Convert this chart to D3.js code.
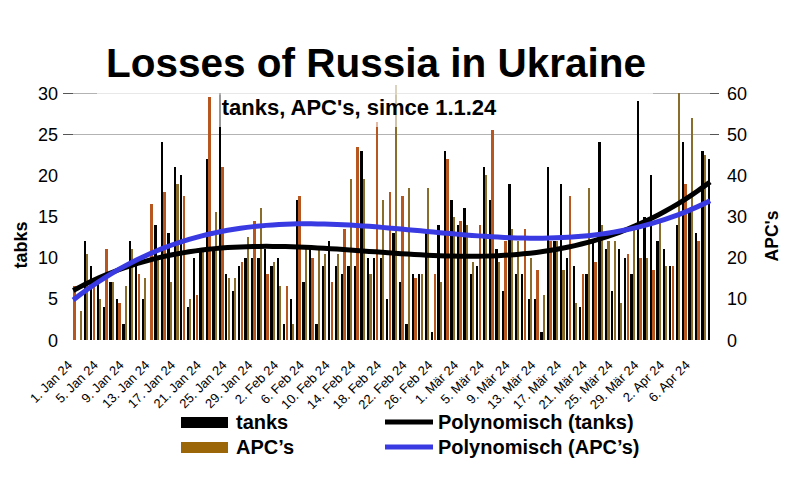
<!DOCTYPE html>
<html><head><meta charset="utf-8">
<script src="https://cdn.jsdelivr.net/npm/d3@7"></script>
<style>
body{margin:0;background:#fff}
svg{display:block}
text{font-family:"Liberation Sans",Arial,Helvetica,sans-serif}
</style>
</head><body>
<svg id="chart" width="795" height="477"></svg>
<script>
// ---- data ----
const dayCount = 100;
const days = d3.range(1, dayCount + 1);

const tanks = [null,0,12,9,7,4,7,5,2,12, 9,5,0,14,24,13,21,20,4,10,
  11,22,11,30,8,6,9,10,10,10, 11,9,10,2,5,17,7,11,2,9,
  12,9,8,9,9,23,10,10,10,5, 13,7,2,8,8,13,1,14,23,17,
  14,16,8,9,21,17,11,6,19,8, 8,5,5,1,21,12,19,10,9,4,
  8,12,24,11,6,11,10,8,29,15, 20,12,11,9,14,24,16,13,23,22];

const apcs = [13,7,21,13,10,22,14,9,13,22, 16,15,33,20,36,14,38,35,10,11,
  22,59,31,42,15,15,19,25,29,32, 16,19,13,13,4,35,22,20,22,21,
  14,21,27,39,47,39,16,53,34,36, 62,35,37,15,16,37,16,14,44,30,
  29,28,19,28,40,51,19,24,27,24, 27,20,17,11,24,24,17,35,9,16,
  37,19,28,24,24,9,21,27,20,20, 17,29,18,18,60,38,54,24,45,null];

const tickLabels = ["1. Jan 24","5. Jan 24","9. Jan 24","13. Jan 24","17. Jan 24","21. Jan 24",
  "25. Jan 24","29. Jan 24","2. Feb 24","6. Feb 24","10. Feb 24","14. Feb 24","18. Feb 24",
  "22. Feb 24","26. Feb 24","1. Mär 24","5. Mär 24","9. Mär 24","13. Mär 24","17. Mär 24",
  "21. Mär 24","25. Mär 24","29. Mär 24","2. Apr 24","6. Apr 24"];
const tickDays = [1,5,9,13,17,21,25,29,33,37,41,45,49,53,57,61,65,69,73,77,81,85,89,93,97];

const leftTicks = [0,5,10,15,20,25,30];
const rightTicks = [0,10,20,30,40,50,60];
const gridTicks = [25,30];

const title = "Losses of Russia in Ukraine";
const subtitle = "tanks, APC's, simce 1.1.24";
const leftTitle = "tabks";
const rightTitle = "APC's";
const legendItems = ["tanks","APC\u2019s","Polynomisch (tanks)","Polynomisch (APC\u2019s)"];

// ---- helpers ----
function polyfit(xv, yv, deg){
  const n = deg + 1;
  const A = Array.from({length:n}, () => new Array(n+1).fill(0));
  for (let i = 0; i < xv.length; i++){
    const p = []; let t = 1;
    for (let j = 0; j < n; j++){ p.push(t); t *= xv[i]; }
    for (let r = 0; r < n; r++){
      for (let c = 0; c < n; c++) A[r][c] += p[r]*p[c];
      A[r][n] += p[r]*yv[i];
    }
  }
  for (let col = 0; col < n; col++){
    let piv = col;
    for (let r = col+1; r < n; r++) if (Math.abs(A[r][col]) > Math.abs(A[piv][col])) piv = r;
    const tmp = A[col]; A[col] = A[piv]; A[piv] = tmp;
    for (let r = 0; r < n; r++){
      if (r === col) continue;
      const f = A[r][col]/A[col][col];
      for (let c = col; c <= n; c++) A[r][c] -= f*A[col][c];
    }
  }
  return A.map((row,i) => row[n]/row[i]);
}
const scaleU = k => (k - 50.5)/49.5;
function trend(values, deg){
  const xv = [], yv = [];
  values.forEach((v,i) => { if (v != null){ xv.push(scaleU(days[i])); yv.push(v); } });
  const c = polyfit(xv, yv, deg);
  return days.map(k => { const u = scaleU(k); let s = 0, t = 1; c.forEach(ci => { s += ci*t; t *= u; }); return s; });
}

// ---- scales ----
const svg = d3.select("#chart");
const x = d3.scaleBand().domain(days).range([70, 713.3]).paddingInner(0).paddingOuter(0);
const xs = d3.scaleBand().domain(["t","a"]).range([0.8, 5.6]).paddingInner(0.08);
const yL = d3.scaleLinear().domain([0,30]).range([340,93]);
const yR = d3.scaleLinear().domain([0,60]).range([340,93]);

const colBlack = "#000000", colOrange = "#b8561f", colOlive = "#8a6c2b", colLegendApc = "#9a6608", colBlue = "#3a3ae2";

// gridlines (only the upper ones are visible in the reference)
const gy = d => Math.round(yL(d)) + 0.5;
svg.append("g").selectAll("line").data(gridTicks).join("line")
  .attr("x1", 73).attr("x2", 710).attr("y1", gy).attr("y2", gy)
  .attr("stroke", "#b3b3b3").attr("stroke-width", 1);
svg.append("g").selectAll("line").data(gridTicks).join("line")
  .attr("x1", 63).attr("x2", 73).attr("y1", gy).attr("y2", gy)
  .attr("stroke", "#555").attr("stroke-width", 1);
svg.append("g").selectAll("line").data(gridTicks).join("line")
  .attr("x1", 710).attr("x2", 719).attr("y1", gy).attr("y2", gy)
  .attr("stroke", "#555").attr("stroke-width", 1);

// bars
const gb = svg.append("g").attr("shape-rendering", "crispEdges");
gb.selectAll("rect.t").data(days.filter((d,i) => tanks[i] != null)).join("rect").attr("class","t")
  .attr("x", d => x(d) + xs("t")).attr("width", xs.bandwidth())
  .attr("y", d => yL(tanks[d-1])).attr("height", d => yL(0) - yL(tanks[d-1]))
  .attr("fill", colBlack);
gb.selectAll("rect.a").data(days.filter((d,i) => apcs[i] != null)).join("rect").attr("class","a")
  .attr("x", d => x(d) + xs("a")).attr("width", xs.bandwidth())
  .attr("y", d => yR(apcs[d-1])).attr("height", d => yR(0) - yR(apcs[d-1]))
  .attr("fill", d => { const px = x(d) + xs("a"); const f = px - Math.floor(px); return (f >= 0.24 && f < 0.67) ? colOrange : colOlive; });

// trend lines
const tT = trend(tanks, 3), tA = trend(apcs, 3);
const cx = d => x(d) + x.bandwidth()/2;
svg.append("path").datum(days).attr("fill","none").attr("stroke", colBlack).attr("stroke-width", 5)
  .attr("d", d3.line().x(d => cx(d)).y(d => yL(tT[d-1])));
svg.append("path").datum(days).attr("fill","none").attr("stroke", colBlue).attr("stroke-width", 5)
  .attr("d", d3.line().x(d => cx(d)).y(d => yR(tA[d-1])));

// title boxes (semi-transparent, as in reference)
svg.append("rect").attr("x", 97).attr("y", 35).attr("width", 556).attr("height", 60).attr("fill", "#fff").attr("opacity", 0.7);
svg.append("rect").attr("x", 213).attr("y", 95).attr("width", 293).attr("height", 32).attr("fill", "#fff").attr("opacity", 0.6);

svg.append("text").attr("x", 376).attr("y", 77).attr("text-anchor","middle")
  .attr("font-size", 40.5).attr("font-weight","bold").attr("fill","#000").text(title);
svg.append("text").attr("x", 359).attr("y", 115).attr("text-anchor","middle")
  .attr("font-size", 22).attr("font-weight","bold").attr("fill","#000").text(subtitle);

// y axis labels
svg.append("g").selectAll("text").data(leftTicks).join("text")
  .attr("x", 58).attr("y", d => yL(d) + 6.5).attr("text-anchor","end").attr("font-size", 18).text(d => d);
svg.append("g").selectAll("text").data(rightTicks).join("text")
  .attr("x", 727).attr("y", d => yR(d) + 6.5).attr("text-anchor","start").attr("font-size", 18).text(d => d);

svg.append("text").attr("transform","translate(27,245) rotate(-90)").attr("text-anchor","middle")
  .attr("font-size", 18).attr("font-weight","bold").text(leftTitle);
svg.append("text").attr("transform","translate(778,236) rotate(-90)").attr("text-anchor","middle")
  .attr("font-size", 17.5).attr("font-weight","bold").text(rightTitle);

// x tick labels
svg.append("g").selectAll("text").data(tickDays).join("text")
  .attr("transform", d => `translate(${cx(d)},366) rotate(-45)`)
  .attr("text-anchor","end").attr("font-size", 13).text((d,i) => tickLabels[i]);

// legend
const lg = svg.append("g");
lg.append("rect").attr("x",181).attr("y",417).attr("width",47).attr("height",11).attr("fill", colBlack);
lg.append("rect").attr("x",181).attr("y",442).attr("width",47).attr("height",11).attr("fill", colLegendApc);
lg.append("line").attr("x1",385).attr("x2",433).attr("y1",422).attr("y2",422).attr("stroke",colBlack).attr("stroke-width",5);
lg.append("line").attr("x1",385).attr("x2",433).attr("y1",447).attr("y2",447).attr("stroke",colBlue).attr("stroke-width",5);
const lpos = [[236,429],[236,454],[438,429],[438,454]];
lg.selectAll("text").data(legendItems).join("text")
  .attr("x",(d,i)=>lpos[i][0]).attr("y",(d,i)=>lpos[i][1])
  .attr("font-size",20).attr("font-weight","bold").text(d=>d);
</script>
</body></html>
